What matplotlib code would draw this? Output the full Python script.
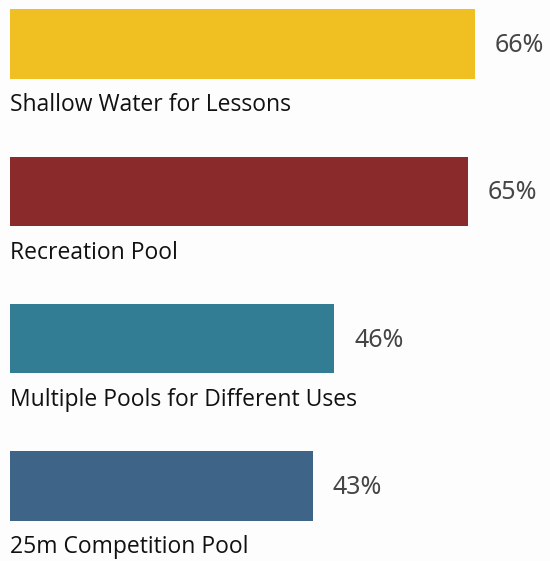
import matplotlib
matplotlib.use("Agg")
import matplotlib.pyplot as plt

categories = [
    "Shallow Water for Lessons",
    "Recreation Pool",
    "Multiple Pools for Different Uses",
    "25m Competition Pool",
]
values = [66, 65, 46, 43]
value_labels = ["66%", "65%", "46%", "43%"]
colors = ["#F0C022", "#8A2A2B", "#327D93", "#3E6588"]

fig = plt.figure(figsize=(5.5, 5.61), dpi=100, facecolor="#FDFDFD")
ax = fig.add_axes([0, 0, 1, 1])
ax.set_facecolor("#FDFDFD")

pos = list(range(len(categories)))
ax.barh(pos, values, height=0.47, color=colors, edgecolor="none")

for i, (v, lab, cat) in enumerate(zip(values, value_labels, categories)):
    ax.text(v + 2.8, i + 0.01, lab, va="center", ha="left",
            fontsize=18, color="#454545", family=["Noto Sans", "DejaVu Sans"])
    ax.text(0, i + 0.415, cat, va="center", ha="left",
            fontsize=16.5, color="#111111", family=["Open Sans", "DejaVu Sans"])

ax.set_xlim(-1.42, 76.6)
ax.set_ylim(3.509, -0.299)
ax.axis("off")

fig.savefig("out.png", dpi=100, facecolor=fig.get_facecolor())
